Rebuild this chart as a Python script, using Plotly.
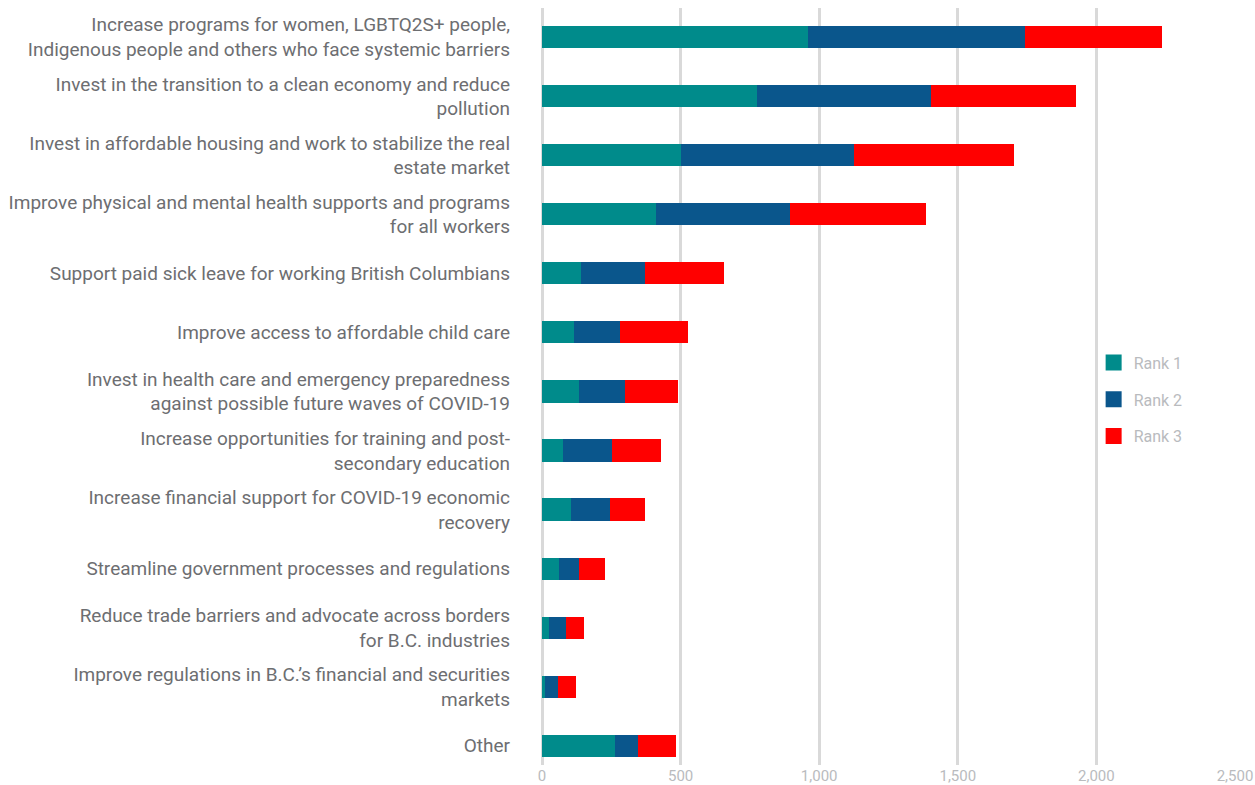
import plotly.graph_objects as go

categories = [
    "Increase programs for women, LGBTQ2S+ people,<br>Indigenous people and others who face systemic barriers",
    "Invest in the transition to a clean economy and reduce<br>pollution",
    "Invest in affordable housing and work to stabilize the real<br>estate market",
    "Improve physical and mental health supports and programs<br>for all workers",
    "Support paid sick leave for working British Columbians",
    "Improve access to affordable child care",
    "Invest in health care and emergency preparedness<br>against possible future waves of COVID-19",
    "Increase opportunities for training and post-<br>secondary education",
    "Increase financial support for COVID-19 economic<br>recovery",
    "Streamline government processes and regulations",
    "Reduce trade barriers and advocate across borders<br>for B.C. industries",
    "Improve regulations in B.C.\u2019s financial and securities<br>markets",
    "Other",
]
rank1 = [961, 777, 500, 413, 139, 117, 132, 74, 106, 63, 27, 12, 262]
rank2 = [783, 628, 624, 480, 234, 165, 169, 179, 140, 72, 60, 44, 83]
rank3 = [491, 520, 577, 494, 285, 243, 188, 178, 127, 94, 63, 65, 137]

series_names = ["Rank 1", "Rank 2", "Rank 3"]
series_values = [rank1, rank2, rank3]
colors = ["#008B8B", "#0A568C", "#FF0000"]

tick_vals = [0, 500, 1000, 1500, 2000, 2500]
tick_text = ["0", "500", "1,000", "1,500", "2,000", "2,500"]

font_family = "Roboto, Noto Sans, sans-serif"

fig = go.Figure()
for name, vals, col in zip(series_names, series_values, colors):
    fig.add_trace(go.Bar(
        y=categories, x=vals, name=name, orientation="h",
        marker=dict(color=col, line=dict(width=0)),
        legendgroup=name, showlegend=False,
    ))
# legend entries with larger square swatches
for name, col in zip(series_names, colors):
    fig.add_trace(go.Scatter(
        x=[None], y=[None], mode="markers", name=name,
        marker=dict(symbol="square", size=22, color=col),
        legendgroup=name, showlegend=True, hoverinfo="skip",
    ))

fig.update_layout(
    barmode="stack",
    bargap=0.625,
    width=1255, height=785,
    margin=dict(l=542, r=20, t=8, b=20),
    plot_bgcolor="white", paper_bgcolor="white",
    font=dict(family=font_family, color="#6d6e71"),
    legend=dict(
        x=0.796, y=0.554, xanchor="left", yanchor="top",
        traceorder="grouped", tracegroupgap=13, itemsizing="trace",
        font=dict(size=16, color="#b9bbbe", family=font_family),
        bgcolor="rgba(0,0,0,0)",
    ),
    xaxis=dict(
        range=[0, 2500], tickvals=tick_vals, ticktext=tick_text,
        showgrid=True, gridcolor="#d9d9d9", gridwidth=2.5,
        zeroline=True, zerolinecolor="#d9d9d9", zerolinewidth=2.5,
        tickfont=dict(size=15, color="#b9bbbe"),
        showline=False, automargin=False,
    ),
    yaxis=dict(
        type="category",
        range=[12.326, -0.494], tickfont=dict(size=19, color="#6d6e71"),
        ticklabelstandoff=31, showgrid=False, automargin=False,
    ),
)

fig.write_html("out.html", config={"displayModeBar": False},
               post_script="document.body.style.margin='0';")
